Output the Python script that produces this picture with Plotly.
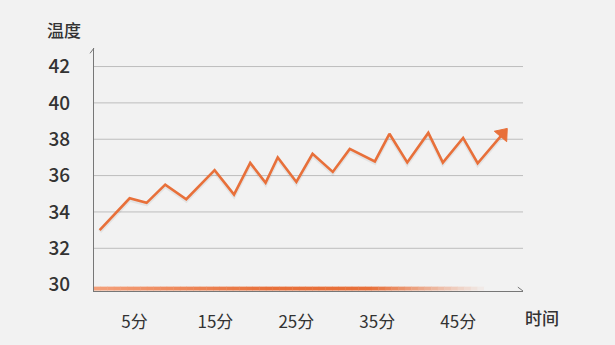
import plotly.graph_objects as go

# ---- data ----
minutes = [0.7, 4.4, 6.5, 8.8, 11.4, 14.9, 17.3, 19.3, 21.2, 22.7, 25.0, 27.0,
           29.5, 31.6, 34.7, 36.5, 38.7, 41.3, 43.1, 45.6, 47.4, 50.5]
temps = [33.0, 34.75, 34.5, 35.5, 34.7, 36.3, 34.95, 36.7, 35.6, 37.0, 35.65, 37.2,
         36.2, 37.47, 36.78, 38.3, 36.72, 38.35, 36.72, 38.07, 36.68, 38.3]
x_tick_vals = [5, 15, 25, 35, 45]
x_tick_text = ["5分", "15分", "25分", "35分", "45分"]
y_tick_vals = [30, 32, 34, 36, 38, 40, 42]
grid_vals = [32, 34, 36, 38, 40, 42]
x_title = "时间"
y_title = "温度"

FONT = "Noto Sans CJK SC"
BG = "#f2f2f2"
ORANGE = "#e8703a"
TXT = "#333333"

fig = go.Figure()

# soft shadow under line
fig.add_trace(go.Scatter(
    x=minutes, y=[t - 0.08 for t in temps], mode="lines",
    line=dict(color="rgba(0,0,0,0.06)", width=4), hoverinfo="skip", showlegend=False))

sizes = [0] * (len(minutes) - 1) + [14]
fig.add_trace(go.Scatter(
    x=minutes, y=temps, mode="lines+markers",
    line=dict(color=ORANGE, width=2.6),
    marker=dict(symbol="triangle-up", angleref="previous", size=sizes, color=ORANGE,
                opacity=1, line=dict(width=1, color=ORANGE)),
    showlegend=False))

shapes = []
# horizontal grid lines
for g in grid_vals:
    shapes.append(dict(type="line", xref="paper", yref="y", x0=0, x1=1, y0=g, y1=g,
                       line=dict(color="#bdbdbd", width=1), layer="below"))

# gradient band along the bottom (decoration)
n = 60
x_end = 49.0
def lerp(a, b, t):
    return a + (b - a) * t
c0 = (244, 160, 122)
c1 = (232, 112, 58)
bgc = (242, 242, 242)
for i in range(n):
    t = i / (n - 1)
    if t < 0.45:
        c = tuple(lerp(c0[k], c1[k], t / 0.45) for k in range(3))
    elif t < 0.7:
        c = c1
    else:
        c = tuple(lerp(c1[k], bgc[k], (t - 0.7) / 0.3) for k in range(3))
    shapes.append(dict(type="rect", xref="x", yref="paper",
                       x0=x_end * i / n, x1=x_end * (i + 1) / n + 0.05,
                       y0=0.002, y1=0.018,
                       fillcolor="rgb(%d,%d,%d)" % tuple(int(v) for v in c),
                       line=dict(width=0), layer="above"))

# axis arrow tips
shapes.append(dict(type="line", xref="paper", yref="paper", x0=0, y0=1,
                   x1=-0.0093, y1=0.978, line=dict(color="#777777", width=1)))
shapes.append(dict(type="line", xref="paper", yref="paper", x0=1, y0=0,
                   x1=0.988, y1=0.016, line=dict(color="#777777", width=1)))

fig.update_layout(
    width=615, height=345,
    margin=dict(l=94, r=92, t=48, b=52),
    paper_bgcolor=BG, plot_bgcolor=BG,
    font=dict(family=FONT, color=TXT),
    shapes=shapes,
    xaxis=dict(range=[0, 53], tickvals=x_tick_vals, ticktext=x_tick_text,
               showgrid=False, zeroline=False, showline=True,
               linecolor="#777777", linewidth=1,
               ticks="", ticklabelstandoff=16,
               tickfont=dict(family=FONT, size=17, color=TXT, weight=400)),
    yaxis=dict(range=[29.65, 43.02], tickvals=y_tick_vals,
               showgrid=False, zeroline=False, showline=True,
               linecolor="#777777", linewidth=1,
               ticks="", ticklabelstandoff=19,
               tickfont=dict(family=FONT, size=19, color=TXT, weight=500)),
    annotations=[
        dict(text=x_title, xref="paper", yref="paper", x=1, y=-0.110,
             xanchor="left", yanchor="middle", showarrow=False,
             font=dict(family=FONT, size=17, color=TXT, weight=500)),
        dict(text=y_title, xref="paper", yref="paper", x=-0.114, y=1.0776,
             xanchor="left", yanchor="middle", showarrow=False,
             font=dict(family=FONT, size=17, color=TXT, weight=500)),
    ],
)

fig.write_html("out.html")
